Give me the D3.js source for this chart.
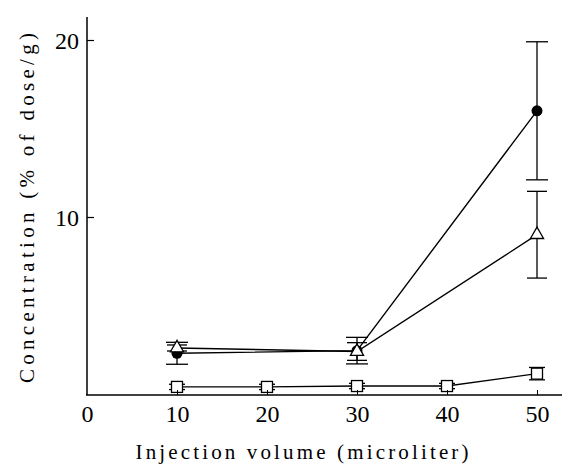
<!DOCTYPE html>
<html><head><meta charset="utf-8"><script src="https://cdn.jsdelivr.net/npm/d3@7"></script></head>
<body style="margin:0">
<svg id="chart" width="573" height="467" style="font-family:'Liberation Serif'"></svg>
<script>
// ---- data ----
const xTicks = [0, 10, 20, 30, 40, 50];
const yTicks = [10, 20];

const circleX   = [10, 30, 50];
const circleY   = [2.3, 2.45, 16.0];
const circleErr = [0.62, 0.75, 3.9];

const triX   = [10, 30, 50];
const triY   = [2.6, 2.4, 9.0];
const triErr = [0.17, 0.5, 2.45];

const sqX   = [10, 20, 30, 40, 50];
const sqY   = [0.4, 0.4, 0.45, 0.45, 1.15];
const sqErr = [0.15, 0.15, 0.15, 0.15, 0.35];

const xTitle = "Injection volume (microliter)";
const yTitle = "Concentration (% of dose/g)";

// ---- drawing ----
const svg = d3.select("#chart");
const x = d3.scaleLinear().domain([0, 50]).range([87, 537]);
const y = d3.scaleLinear().domain([0, 20]).range([394, 40]);

svg.append("rect").attr("width", 573).attr("height", 467).attr("fill", "#fff");
const g = svg.append("g");

g.append("line").attr("x1", 87).attr("x2", 87).attr("y1", 17).attr("y2", 395)
  .attr("stroke", "#000").attr("stroke-width", 1.5);
g.append("line").attr("x1", 86).attr("x2", 562).attr("y1", 395).attr("y2", 395)
  .attr("stroke", "#000").attr("stroke-width", 1.5);

const xAxis = d3.axisBottom(x).tickValues(xTicks).tickSize(-5).tickPadding(14)
  .tickFormat(d3.format("d"));
const xg = svg.append("g").attr("transform", "translate(0,395)").call(xAxis);
xg.select(".domain").remove();
xg.selectAll(".tick line").attr("stroke", "#000").attr("stroke-width", 1)
  .filter(d => d === 0).remove();

const yAxis = d3.axisLeft(y).tickValues(yTicks).tickSize(-7).tickPadding(8)
  .tickFormat(d3.format("d"));
const yg = svg.append("g").attr("transform", "translate(87,0)").call(yAxis);
yg.select(".domain").remove();
yg.selectAll(".tick line").attr("stroke", "#000").attr("stroke-width", 1.2);

[xg, yg].forEach(ax => ax.attr("font-family", "Liberation Serif").attr("font-size", 24));
xg.selectAll(".tick text").attr("dy", "0.55em");
yg.selectAll(".tick text").attr("dy", "0.35em");
svg.selectAll(".tick text").style("font-family", '"Liberation Serif"').style("font-size", "24px").attr("fill", "#000");

svg.append("text").attr("x", 302).attr("y", 459).attr("text-anchor", "middle")
  .style("font-family", '"Liberation Serif"').style("font-size", "21px")
  .attr("textLength", 333).attr("lengthAdjust", "spacing")
  .text(xTitle);
svg.append("text").attr("transform", "translate(34,208) rotate(-90)")
  .attr("text-anchor", "middle")
  .style("font-family", '"Liberation Serif"').style("font-size", "21px")
  .attr("textLength", 350).attr("lengthAdjust", "spacing")
  .text(yTitle);

const line = d3.line().x(d => x(d.x)).y(d => y(d.y));
function pts(xs, ys, es) { return xs.map((v, i) => ({x: v, y: ys[i], e: es[i]})); }

const circ = pts(circleX, circleY, circleErr);
const tri = pts(triX, triY, triErr);
const sq = pts(sqX, sqY, sqErr);

function errorBars(data, capW) {
  const eg = g.append("g").attr("stroke", "#000").attr("stroke-width", 1.3);
  data.forEach(d => {
    eg.append("line").attr("x1", x(d.x)).attr("x2", x(d.x))
      .attr("y1", y(d.y - d.e)).attr("y2", y(d.y + d.e));
    [d.y - d.e, d.y + d.e].forEach(v => {
      eg.append("line").attr("x1", x(d.x) - capW / 2).attr("x2", x(d.x) + capW / 2)
        .attr("y1", y(v)).attr("y2", y(v));
    });
  });
}
errorBars(circ, 22);
errorBars(tri, 20);
errorBars(sq, 16);

[circ, tri, sq].forEach(data => {
  g.append("path").datum(data).attr("d", line)
    .attr("fill", "none").attr("stroke", "#000").attr("stroke-width", 1.4);
});

g.append("g").selectAll("circle").data(circ).join("circle")
  .attr("cx", d => x(d.x)).attr("cy", d => y(d.y)).attr("r", 5.5)
  .attr("fill", "#000");

const triSym = d3.symbol().type(d3.symbolTriangle).size(75);
g.append("g").selectAll("path").data(tri).join("path")
  .attr("transform", d => `translate(${x(d.x)},${y(d.y)})`)
  .attr("d", triSym).attr("fill", "#fff").attr("stroke", "#000").attr("stroke-width", 1.3);

g.append("g").selectAll("rect").data(sq).join("rect")
  .attr("x", d => x(d.x) - 5.5).attr("y", d => y(d.y) - 5.5)
  .attr("width", 11).attr("height", 11)
  .attr("fill", "#fff").attr("stroke", "#000").attr("stroke-width", 1.3);
</script>
</body>
</html>
